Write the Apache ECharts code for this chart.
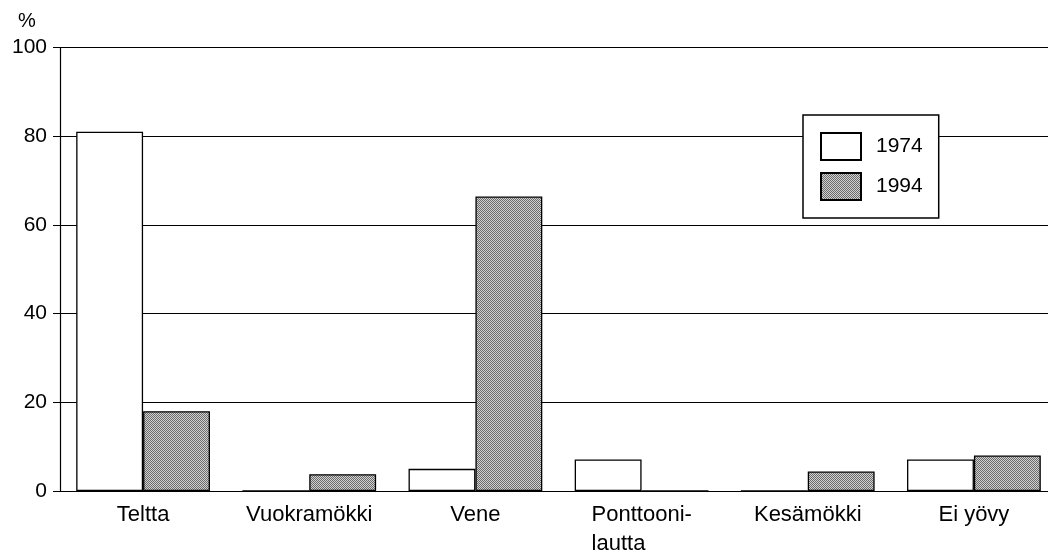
<!DOCTYPE html>
<html>
<head>
<meta charset="utf-8">
<script src="https://cdn.jsdelivr.net/npm/echarts@6/dist/echarts.min.js"></script>
<style>
html,body{margin:0;padding:0;background:#fff;}
#chart{width:1048px;height:553px;}
</style>
</head>
<body>
<div id="chart"></div>
<script>
const categories = ['Teltta', 'Vuokramökki', 'Vene', 'Ponttooni-\nlautta', 'Kesämökki', 'Ei yövy'];
const values1974 = [81, 0, 5, 7.1, 0, 7.1];
const values1994 = [18, 3.8, 66.4, 0, 4.4, 8];
const seriesNames = ['1974', '1994'];
const yTicks = [0, 20, 40, 60, 80, 100];

// stipple pattern for 1994
const pc = document.createElement('canvas');
pc.width = 2; pc.height = 2;
const pctx = pc.getContext('2d');
pctx.fillStyle = '#d2d2d2'; pctx.fillRect(0, 0, 2, 2);
pctx.fillStyle = '#6a6a6a'; pctx.fillRect(0, 0, 1, 1); pctx.fillRect(1, 1, 1, 1);
const pattern = { image: pc, repeat: 'repeat' };

const FONT = '"Liberation Sans", Arial, Helvetica, sans-serif';
const chart = echarts.init(document.getElementById('chart'), null, { renderer: 'canvas' });
chart.setOption({
  animation: false,
  backgroundColor: '#fff',
  textStyle: { fontFamily: FONT, color: '#000' },
  grid: { left: 60, width: 997, top: 47.5, bottom: 62, containLabel: false, outerBoundsMode: 'none' },
  graphic: [{
    type: 'text', left: 18, top: 11,
    style: { text: '%', font: '20px ' + FONT, fill: '#000' }
  }],
  legend: {
    orient: 'vertical',
    left: 803, top: 115,
    padding: [17, 16, 17, 17],
    itemWidth: 40, itemHeight: 27, itemGap: 11,
    icon: 'rect',
    borderColor: '#000', borderWidth: 1.5, backgroundColor: '#fff',
    textStyle: { fontSize: 21, fontFamily: FONT, color: '#000', padding: [0, 0, 0, 10] },
    data: seriesNames,
    z: 10
  },
  xAxis: {
    type: 'category',
    data: categories,
    axisLine: { lineStyle: { color: '#000', width: 1.2 } },
    axisTick: { show: false },
    axisLabel: {
      interval: 0,
      fontSize: 22, fontFamily: FONT, color: '#000', margin: 9, lineHeight: 29,
      formatter: function (v) {
        if (v.indexOf('\n') >= 0) {
          return v.split('\n').map(s => '{a|' + s + '}').join('\n');
        }
        return v;
      },
      rich: { a: { width: 100, align: 'left', fontSize: 22, fontFamily: FONT, color: '#000', lineHeight: 29 } }
    }
  },
  yAxis: {
    type: 'value',
    min: yTicks[0], max: yTicks[yTicks.length - 1], interval: 20,
    axisLine: { show: true, lineStyle: { color: '#000', width: 1.2 } },
    axisTick: { show: true, length: 7, lineStyle: { color: '#000', width: 1 } },
    axisLabel: { fontSize: 21, fontFamily: FONT, color: '#000', margin: 13 },
    splitLine: { show: true, lineStyle: { color: '#000', width: 1.2 } }
  },
  series: [
    {
      name: seriesNames[0], type: 'bar', data: values1974,
      barGap: '0%', barCategoryGap: '19.5%',
      itemStyle: { color: '#fff', borderColor: '#000', borderWidth: 1.3 }
    },
    {
      name: seriesNames[1], type: 'bar', data: values1994,
      barGap: '0%', barCategoryGap: '19.5%',
      itemStyle: { color: pattern, borderColor: '#000', borderWidth: 1.3 }
    }
  ]
});
</script>
</body>
</html>
